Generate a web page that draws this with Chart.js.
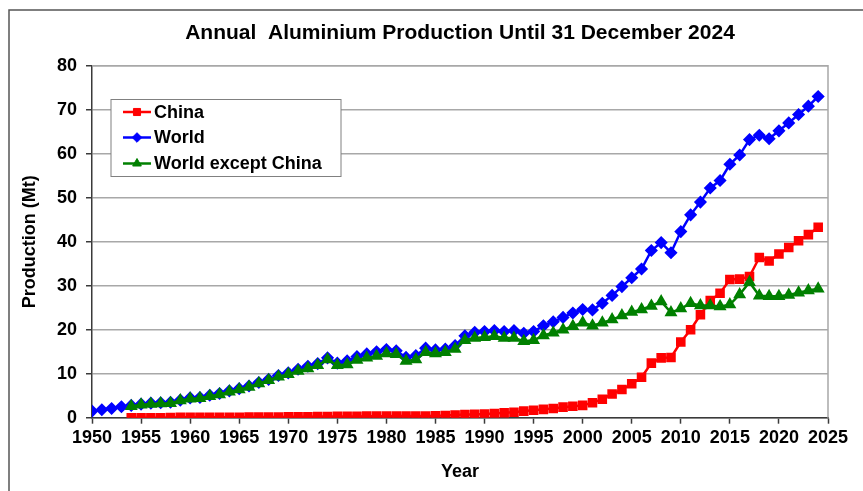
<!DOCTYPE html>
<html>
<head>
<meta charset="utf-8">
<script src="https://cdn.jsdelivr.net/npm/chart.js@4.4.1/dist/chart.umd.min.js"></script>
<style>
  html, body { margin: 0; padding: 0; background: #fff; }
  canvas { display: block; }
</style>
</head>
<body>
<canvas id="alChart" width="863" height="491"></canvas>
<script>
// years on the x axis, 1950 .. 2024
const firstYear = 1950;
const xTicks = [1950, 1955, 1960, 1965, 1970, 1975, 1980, 1985, 1990, 1995, 2000, 2005, 2010, 2015, 2020, 2025];
const yTicks = [0, 10, 20, 30, 40, 50, 60, 70, 80];

// Mt (null = no value plotted)
const china = [
    null, null, null, null,
    0.0, 0.0, 0.0, 0.0, 0.05, 0.1,
    0.1, 0.1, 0.1, 0.1, 0.1, 0.1, 0.15, 0.15, 0.15, 0.15,
    0.2, 0.2, 0.2, 0.25, 0.25, 0.3, 0.3, 0.3, 0.35, 0.35,
    0.35, 0.4, 0.4, 0.4, 0.4, 0.45, 0.5, 0.6, 0.7, 0.75,
    0.85, 0.95, 1.1, 1.25, 1.5, 1.7, 1.9, 2.1, 2.4, 2.6,
    2.8, 3.4, 4.2, 5.4, 6.4, 7.7, 9.2, 12.4, 13.6, 13.7,
    17.2, 20.0, 23.4, 26.6, 28.3, 31.4, 31.5, 32.1, 36.4, 35.6,
    37.2, 38.7, 40.2, 41.6, 43.3
];

const world = [
    1.5, 1.8, 2.1, 2.5, 2.8, 3.1, 3.3, 3.4, 3.5, 4.0,
    4.5, 4.6, 5.1, 5.5, 6.1, 6.6, 7.2, 8.0, 8.7, 9.6,
    10.2, 11.0, 11.7, 12.3, 13.6, 12.4, 12.9, 13.9, 14.5, 15.0,
    15.5, 15.2, 13.7, 14.1, 15.8, 15.4, 15.6, 16.4, 18.6, 19.4,
    19.6, 19.8, 19.6, 19.8, 19.2, 19.6, 20.9, 21.8, 22.8, 23.8,
    24.6, 24.5, 26.0, 27.8, 29.8, 31.8, 33.8, 38.0, 39.8, 37.5,
    42.3, 46.1, 49.0, 52.2, 53.9, 57.6, 59.7, 63.2, 64.2, 63.4,
    65.2, 67.0, 68.9, 70.8, 73.0
];

const worldExChina = [
    null, null, null, null,
    2.6, 2.95, 3.1, 3.2, 3.3, 3.9,
    4.3, 4.4, 4.9, 5.3, 5.9, 6.4, 7.0, 7.8, 8.5, 9.3,
    9.9, 10.6, 11.2, 11.9, 13.2, 11.9, 12.1, 13.1, 13.6, 14.0,
    14.6, 14.4, 12.9, 13.2, 14.9, 14.6, 14.9, 15.6, 17.6, 18.1,
    18.3, 18.5, 18.1, 18.1, 17.4, 17.6, 18.7, 19.3, 20.0, 20.8,
    21.6, 20.9, 21.6, 22.3, 23.2, 24.0, 24.6, 25.4, 26.4, 23.9,
    24.8, 26.0, 25.5, 25.5, 25.3, 25.7, 28.0, 30.8, 27.7, 27.6,
    27.6, 27.9, 28.4, 28.9, 29.3
];

const toPoints = arr => arr
    .map((v, i) => ({ x: firstYear + i, y: v }))
    .filter(p => p.y !== null);

const AXIS = "#3a3a3a";
const GRID = "#a8a8a8";
const FONT = "'Liberation Sans', Arial, sans-serif";

// frame lines + plot border + in-plot legend
const decorations = {
    id: "decorations",
    beforeDraw(chart) {
        const ctx = chart.ctx;
        ctx.save();
        ctx.strokeStyle = "#555";
        ctx.lineWidth = 1.5;
        ctx.beginPath();
        ctx.moveTo(9, 491);
        ctx.lineTo(9, 10);
        ctx.lineTo(863, 10);
        ctx.stroke();
        ctx.restore();
    },
    afterDatasetsDraw(chart) {
        const { ctx, chartArea } = chart;
        ctx.save();
        ctx.strokeStyle = GRID;
        ctx.lineWidth = 1.5;
        ctx.beginPath();
        ctx.moveTo(chartArea.left, chartArea.top);
        ctx.lineTo(chartArea.right, chartArea.top);
        ctx.lineTo(chartArea.right, chartArea.bottom);
        ctx.stroke();

        // legend
        const bx = 111, by = 99.5, bw = 230, bh = 77;
        ctx.fillStyle = "#fff";
        ctx.fillRect(bx, by, bw, bh);
        ctx.strokeStyle = "#808080";
        ctx.lineWidth = 1;
        ctx.strokeRect(bx, by, bw, bh);
        const rows = [112, 137.5, 163.5];
        chart.data.datasets.forEach((ds, i) => {
            const y = rows[i];
            ctx.strokeStyle = ds.borderColor;
            ctx.lineWidth = 2.5;
            ctx.beginPath();
            ctx.moveTo(123, y);
            ctx.lineTo(151, y);
            ctx.stroke();
            ctx.fillStyle = ds.pointBackgroundColor;
            ctx.strokeStyle = ds.pointBorderColor;
            ctx.lineWidth = 1;
            Chart.helpers.drawPoint(ctx, {
                pointStyle: ds.pointStyle,
                radius: ds.pointRadius,
                borderWidth: 1,
                rotation: 0
            }, 137, y);
            ctx.fillStyle = "#000";
            ctx.font = "bold 18px " + FONT;
            ctx.textBaseline = "middle";
            ctx.textAlign = "left";
            ctx.fillText(ds.label, 154, y + 1);
        });
        ctx.restore();
    }
};

new Chart(document.getElementById("alChart"), {
    type: "line",
    data: {
        datasets: [
            {
                label: "China",
                data: toPoints(china),
                borderColor: "#ff0000",
                backgroundColor: "#ff0000",
                pointBackgroundColor: "#ff0000",
                pointBorderColor: "#ff0000",
                pointStyle: "rect",
                pointRadius: 5,
                borderWidth: 2.5,
                order: 2
            },
            {
                label: "World",
                data: toPoints(world),
                borderColor: "#0000ff",
                backgroundColor: "#0000ff",
                pointBackgroundColor: "#0000ff",
                pointBorderColor: "#0000ff",
                pointStyle: "rectRot",
                pointRadius: 4.8,
                borderWidth: 2.5,
                order: 1
            },
            {
                label: "World except China",
                data: toPoints(worldExChina),
                borderColor: "#008000",
                backgroundColor: "#008000",
                pointBackgroundColor: "#008000",
                pointBorderColor: "#008000",
                pointStyle: "triangle",
                pointRadius: 5,
                borderWidth: 2.5,
                order: 0
            }
        ]
    },
    options: {
        responsive: false,
        animation: false,
        layout: {
            padding: { left: 0, right: 35, top: 0, bottom: 0 }
        },
        elements: {
            line: { tension: 0 },
            point: { borderWidth: 1, hoverRadius: 5 }
        },
        plugins: {
            legend: { display: false },
            tooltip: { enabled: false },
            title: {
                display: true,
                fullSize: false,
                text: "Annual  Aluminium Production Until 31 December 2024",
                color: "#000",
                font: { family: FONT, size: 21, weight: "bold", lineHeight: 1.2 },
                padding: { top: 20.4, bottom: 20.1 }
            }
        },
        scales: {
            x: {
                type: "linear",
                min: 1950,
                max: 2025,
                afterBuildTicks: scale => {
                    scale.ticks = xTicks.map(v => ({ value: v }));
                },
                afterFit: scale => { scale.height = 73.3; },
                grid: {
                    drawOnChartArea: false,
                    drawTicks: true,
                    tickLength: 6,
                    tickColor: AXIS,
                    tickWidth: 1.5
                },
                border: { color: AXIS, width: 1.5 },
                ticks: {
                    color: "#000",
                    maxRotation: 0,
                    autoSkip: false,
                    padding: 4,
                    font: { family: FONT, size: 18, weight: "bold" },
                    callback: v => String(v)
                },
                title: {
                    display: true,
                    text: "Year",
                    color: "#000",
                    font: { family: FONT, size: 18, weight: "bold", lineHeight: 1.2 },
                    padding: { top: 0, bottom: 8 }
                }
            },
            y: {
                min: 0,
                max: 80,
                afterBuildTicks: scale => {
                    scale.ticks = yTicks.map(v => ({ value: v }));
                },
                afterFit: scale => { scale.width = 92; },
                grid: {
                    color: GRID,
                    lineWidth: 1.5,
                    tickLength: 6,
                    tickColor: AXIS,
                    tickWidth: 1.5
                },
                border: { color: AXIS, width: 1.5 },
                ticks: {
                    color: "#000",
                    padding: 9,
                    font: { family: FONT, size: 18, weight: "bold" }
                },
                title: {
                    display: true,
                    text: "Production (Mt)",
                    color: "#000",
                    font: { family: FONT, size: 18, weight: "bold", lineHeight: 1.2 },
                    padding: { top: 19, bottom: 0 }
                }
            }
        }
    },
    plugins: [decorations]
});
</script>
</body>
</html>
